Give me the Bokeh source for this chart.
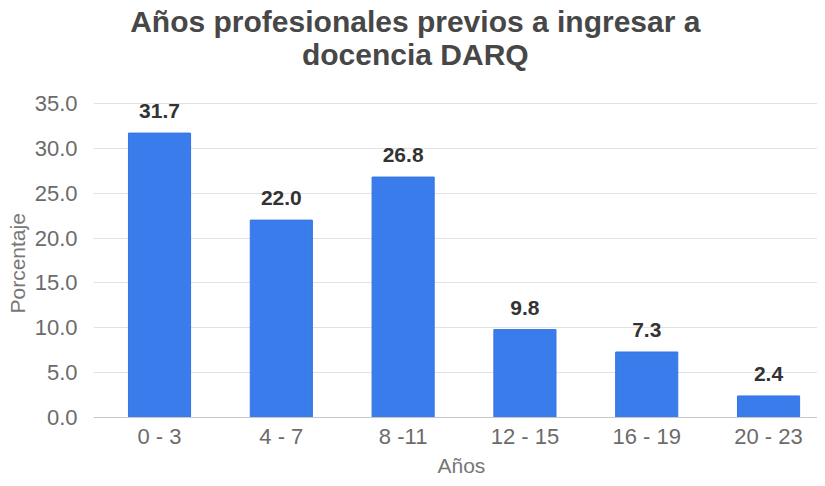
from bokeh.plotting import figure
from bokeh.models import (ColumnDataSource, FixedTicker, PrintfTickFormatter,
                          Range1d, LabelSet, Label, Title)
from bokeh.core.properties import value
from bokeh.embed import file_html
from bokeh.resources import INLINE

categories = ["0 - 3", "4 - 7", "8 -11", "12 - 15", "16 - 19", "20 - 23"]
values = [31.7, 22.0, 26.8, 9.8, 7.3, 2.4]
y_ticks = [0, 5, 10, 15, 20, 25, 30, 35]
title_lines = ["Años profesionales previos a ingresar a", "docencia DARQ"]

idx = list(range(len(categories)))
source = ColumnDataSource(dict(x=idx, y=values, lbl=[f"{v:.1f}" for v in values]))

FONT = "Liberation Sans"

p = figure(width=817, height=478, output_backend="svg", toolbar_location=None,
           x_range=Range1d(-0.542, 5.402), y_range=Range1d(0, 46.48),
           min_border_left=93, min_border_right=0, min_border_top=0,
           min_border_bottom=61)
p.outline_line_color = None
p.background_fill_color = "white"
p.border_fill_color = "white"

p.vbar(x="x", top="y", width=0.51, source=source, fill_color="#3b7cec",
       line_color="#3575e2", line_width=1)

labels = LabelSet(x="x", y="y", text="lbl", source=source, y_offset=15,
                  text_align="center", text_baseline="alphabetic",
                  text_font=value(FONT), text_font_style="bold",
                  text_font_size="21px", text_color="#333333")
p.add_layout(labels)

for line, yv in zip(title_lines, [44.14, 40.47]):
    p.add_layout(Label(x=2.1, y=yv, text=line, text_align="center",
                       text_baseline="alphabetic", text_font=FONT,
                       text_font_style="bold", text_font_size="30px",
                       text_color="#474747"))

# X axis
p.xaxis.ticker = FixedTicker(ticks=idx)
p.xaxis.major_label_overrides = {i: c for i, c in zip(idx, categories)}
p.xaxis.axis_line_color = "#c8c8c8"
p.xaxis.major_tick_line_color = None
p.xaxis.minor_tick_line_color = None
p.xaxis.major_label_standoff = 0
p.xgrid.grid_line_color = None

xlab = Title(text="Años", align="left", offset=344, standoff=1,
             text_font=FONT, text_font_size="21px", text_font_style="normal",
             text_color="#777777")
p.add_layout(xlab, "below")

# Y axis
p.yaxis.ticker = FixedTicker(ticks=y_ticks)
p.yaxis.formatter = PrintfTickFormatter(format="%.1f")
p.yaxis.axis_line_color = None
p.yaxis.major_tick_line_color = None
p.yaxis.minor_tick_line_color = None
p.yaxis.major_label_standoff = 10
p.ygrid.grid_line_color = "#e2e2e2"

ylab = Title(text="Porcentaje", align="left", offset=104, standoff=6,
             text_font=FONT, text_font_size="21px", text_font_style="normal",
             text_color="#777777")
p.add_layout(ylab, "left")

for ax in (p.xaxis, p.yaxis):
    ax.major_label_text_font = FONT
    ax.major_label_text_font_size = "22px"
    ax.major_label_text_color = "#6b6b6b"

open("out.html", "w").write(file_html(p, INLINE))
